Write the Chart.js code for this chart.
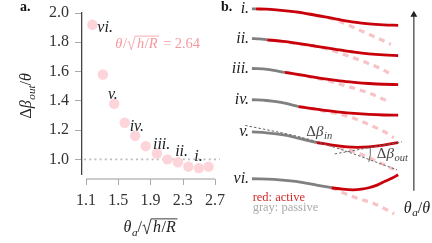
<!DOCTYPE html>
<html><head><meta charset="utf-8">
<script src="https://cdn.jsdelivr.net/npm/chart.js@4.4.1/dist/chart.umd.min.js"></script>
<style>
html,body{margin:0;padding:0;background:#fff;}
#wrap{position:relative;width:432px;height:243px;overflow:hidden;background:#fff;}
#ca{position:absolute;left:0;top:0;}
#cb{position:absolute;left:220px;top:0;}
</style></head><body>
<div id="wrap">
<canvas id="cb" width="212" height="243"></canvas>
<canvas id="ca" width="240" height="243"></canvas>
</div>
<script>
// ---------- Panel a data ----------
const xVals = [1.18, 1.31, 1.45, 1.58, 1.71, 1.84, 1.98, 2.11, 2.24, 2.37, 2.50, 2.62];
const yVals = [1.92, 1.58, 1.38, 1.25, 1.16, 1.09, 1.04, 1.00, 0.98, 0.95, 0.94, 0.95];
const xTicks = [1.1, 1.5, 1.9, 2.3, 2.7];
const yTicks = [1.0, 1.2, 1.4, 1.6, 1.8, 2.0];
const refLine = 1.0;
const pointLabels = ['vi.', 'v.', 'iv.', 'iii.', 'ii.', 'i.'];
const pointLabelIdx = [0, 2, 4, 6, 8, 10];
const annotationValue = '2.64';

// ---------- Panel b data (schematic: s = position along span, depth downward) ----------
const rowNames = ['i.', 'ii.', 'iii.', 'iv.', 'v.', 'vi.'];
const grayCurves = [
  [[0,5],[0.028,5.05]],
  [[0,35.7],[0.05,36.1],[0.105,37]],
  [[0,66.7],[0.105,67.5],[0.226,70.7]],
  [[0,99],[0.1,99.8],[0.2,101.8],[0.318,106]],
  [[0,132.3],[0.1,133.2],[0.226,135.7],[0.33,139.3],[0.445,143.3]],
  [[0,180.7],[0.15,181.3],[0.3,183.5],[0.45,187.5],[0.544,190]]
];
const redCurves = [
  [[0.028,5.05],[0.1,5.4],[0.2,6.5],[0.3,8.2],[0.4,10.6],[0.5,13.3],[0.6,16.2],[0.7,18.8],[0.8,20.6],[0.9,21.6],[1,22]],
  [[0.105,37],[0.2,38.5],[0.3,40.5],[0.4,42.8],[0.5,45],[0.6,47.5],[0.7,49.8],[0.8,51.6],[0.9,52.7],[1,53.3]],
  [[0.226,70.7],[0.3,72.5],[0.4,75],[0.5,77.5],[0.6,79.5],[0.7,81],[0.8,82.2],[0.9,83],[1,83.3]],
  [[0.318,106],[0.4,108],[0.5,110],[0.6,111.8],[0.7,113.2],[0.8,114.2],[0.9,114.8],[1,115]],
  [[0.445,143.3],[0.55,146],[0.65,147.8],[0.72,148.3],[0.8,147.8],[0.9,146],[1,143.3]],
  [[0.544,190],[0.62,191.5],[0.69,192.2],[0.75,191.5],[0.8,190],[0.86,187],[0.91,183.3],[0.96,180],[1,176.5]]
];
const pinkCurves = [
  [[0.3,8.3],[0.45,12],[0.6,18],[0.74,27.3],[0.87,36],[0.95,41.7]],
  [[0.105,37],[0.3,41],[0.5,46],[0.62,51.7],[0.76,59.3],[0.9,68.3],[0.95,72.7]],
  [[0.226,70.7],[0.4,75.5],[0.55,80.5],[0.65,85],[0.8,92],[0.93,100.7]],
  [[0.318,106],[0.45,109.5],[0.6,114],[0.71,119],[0.82,126],[0.92,133.3],[0.97,138.3]],
  [[0.445,143.3],[0.55,146.5],[0.65,150.5],[0.71,153.3],[0.84,161.7],[0.97,171]],
  [[0.544,190],[0.664,197.7],[0.752,202.3],[0.84,206.7],[0.917,212.3],[0.972,217]]
];
const tangentIn = [[-0.046,125.5],[0.355,138.5],[0.6,150],[0.993,171.5]];
const tangentOut = [[0.566,155],[1.026,142.5]];
const arcCenter = [0.585,152.5];
const arrowAxis = [[1.107,193],[1.107,11]];

const SERIF = "'Liberation Serif','DejaVu Serif',serif";
const RED = '#c8000a', GRAY = '#808080', PINK = '#f7c3c6';

function fontStr(size, it, b) {
  return (it ? 'italic ' : '') + (b ? 'bold ' : '') + size + 'px ' + SERIF;
}
function drawSegs(ctx, segs, x, y, size, draw) {
  let cx = x;
  for (const s of segs) {
    if (s.sqrt) {
      const rw = size * 0.62;
      const innerStart = cx + rw;
      ctx.font = fontStr(size, false, false);
      const iw = drawSegs(ctx, s.sqrt, innerStart + 1, y, size, false);
      if (draw) {
        ctx.lineWidth = Math.max(0.8, size * 0.055);
        ctx.beginPath();
        ctx.moveTo(cx + 0.5, y - size * 0.38);
        ctx.lineTo(cx + size * 0.14, y - size * 0.45);
        ctx.lineTo(cx + size * 0.3, y + size * 0.12);
        ctx.lineTo(cx + size * 0.56, y - size * 0.82);
        ctx.lineTo(innerStart + iw + 2, y - size * 0.82);
        ctx.stroke();
        drawSegs(ctx, s.sqrt, innerStart + 1, y, size, true);
      }
      cx = innerStart + iw + 2;
      continue;
    }
    const sz = s.sub ? size * 0.7 : size;
    ctx.font = fontStr(sz, s.i, s.b);
    const w = ctx.measureText(s.t).width;
    if (draw) ctx.fillText(s.t, cx, y + (s.sub ? size * 0.22 : 0));
    cx += w + (s.i && !s.sub ? size * 0.04 : 0);
  }
  return cx - x;
}
function drawRich(ctx, segs, x, y, size, color, align) {
  ctx.save();
  ctx.textBaseline = 'alphabetic';
  ctx.textAlign = 'left';
  const w = drawSegs(ctx, segs, 0, 0, size, false);
  const sx = align === 'center' ? x - w / 2 : align === 'right' ? x - w : x;
  ctx.fillStyle = color; ctx.strokeStyle = color;
  drawSegs(ctx, segs, sx, y, size, true);
  ctx.restore();
}
const sqrtHR = {sqrt: [{t:'h', i:1}, {t:'/'}, {t:'R', i:1}]};

// ---------- Panel a ----------
const leftPlugin = {
  id: 'leftDecor',
  beforeDatasetsDraw(chart) {
    const {ctx, chartArea, scales} = chart;
    const y1 = scales.y.getPixelForValue(refLine);
    ctx.save();
    ctx.strokeStyle = '#bdbdbd'; ctx.lineWidth = 1.6; ctx.setLineDash([2, 3.2]);
    ctx.beginPath(); ctx.moveTo(chartArea.left + 2, y1); ctx.lineTo(chartArea.right, y1); ctx.stroke();
    ctx.restore();
  },
  afterDraw(chart) {
    const {ctx, chartArea, scales} = chart;
    const xs = scales.x, ys = scales.y;
    // detached x spine
    const sy = chartArea.bottom + 5;
    ctx.save();
    ctx.strokeStyle = '#9a9a9a'; ctx.lineWidth = 1.2;
    ctx.beginPath();
    ctx.moveTo(xs.getPixelForValue(xTicks[0]), sy);
    ctx.lineTo(xs.getPixelForValue(xTicks[xTicks.length - 1]), sy);
    ctx.stroke();
    ctx.strokeStyle = '#aaa'; ctx.lineWidth = 1;
    for (const t of xTicks) {
      const px = Math.round(xs.getPixelForValue(t)) + 0.5;
      ctx.beginPath(); ctx.moveTo(px, sy); ctx.lineTo(px, sy + 6); ctx.stroke();
    }
    ctx.restore();
    // point labels
    const offs = [[13, 3], [-1, -9], [2, -9], [5, -9], [4, -10], [0, -11]];
    pointLabels.forEach((lab, k) => {
      const i = pointLabelIdx[k];
      const px = xs.getPixelForValue(xVals[i]) + offs[k][0];
      const py = ys.getPixelForValue(yVals[i]) + offs[k][1];
      drawRich(ctx, [{t: lab, i: 1}], px, py + 4, 16, '#222', 'center');
    });
    // annotation
    drawRich(ctx, [{t:'θ', i:1}, {t:'/'}, sqrtHR, {t:' = ' + annotationValue}],
      (xs.getPixelForValue(xVals[1]) + xs.getPixelForValue(xVals[9])) / 2 + 12, 48, 14.5, '#f59a9f', 'center');
    // axis titles
    const xc = (xs.getPixelForValue(xTicks[0]) + xs.getPixelForValue(xTicks[xTicks.length - 1])) / 2;
    drawRich(ctx, [{t:'θ', i:1}, {t:'a', i:1, sub:1}, {t:'/'}, sqrtHR], xc, 232, 16, '#222', 'center');
    ctx.save();
    ctx.translate(31, (chartArea.top + chartArea.bottom) / 2 + 2);
    ctx.rotate(-Math.PI / 2);
    drawRich(ctx, [{t:'Δ'}, {t:'β', i:1}, {t:'out', i:1, sub:1}, {t:'/'}, {t:'θ', i:1}], 0, 0, 16, '#222', 'center');
    ctx.restore();
    drawRich(ctx, [{t:'a.', b:1}], 20, 11, 14, '#111', 'left');
  }
};

new Chart(document.getElementById('ca'), {
  type: 'scatter',
  data: {datasets: [{
    data: xVals.map((x, i) => ({x, y: yVals[i]})),
    backgroundColor: '#fcd4d9', borderWidth: 0, pointRadius: 5.2, pointHoverRadius: 5.2
  }]},
  options: {
    responsive: false, animation: false, events: [],
    plugins: {legend: {display: false}, tooltip: {enabled: false}},
    layout: {padding: {top: 13, right: 20, left: 0, bottom: 0}},
    scales: {
      x: {
        type: 'linear', min: 1.0505, max: 2.762,
        afterBuildTicks: s => { s.ticks = xTicks.map(v => ({value: v})); },
        afterFit: s => { s.height = 69; s.paddingLeft = 0; s.paddingRight = 0; },
        grid: {display: false}, border: {display: false},
        ticks: {padding: 9, font: {family: SERIF, size: 16}, color: '#333',
          callback: v => Number(v).toFixed(1), maxRotation: 0, autoSkip: false}
      },
      y: {
        type: 'linear', min: 0.9, max: 2.0,
        afterBuildTicks: s => { s.ticks = yTicks.map(v => ({value: v})); },
        afterFit: s => { s.width = 82; s.paddingTop = 0; s.paddingBottom = 0; },
        grid: {display: true, drawOnChartArea: false, tickLength: 7, color: '#aaa'},
        border: {display: true, color: '#444', width: 1.3},
        ticks: {padding: 6, font: {family: SERIF, size: 16}, color: '#333',
          callback: v => Number(v).toFixed(1), autoSkip: false}
      }
    }
  },
  plugins: [leftPlugin]
});

// ---------- Panel b ----------
const toXY = arr => arr.map(p => ({x: p[0], y: p[1]}));
const datasets = [];
pinkCurves.forEach(c => datasets.push({data: toXY(c), borderColor: PINK, borderWidth: 3.2,
  borderDash: [6, 5], order: 3}));
redCurves.forEach(c => datasets.push({data: toXY(c), borderColor: RED, borderWidth: 2.8, order: 1}));
grayCurves.forEach(c => datasets.push({data: toXY(c), borderColor: GRAY, borderWidth: 2.8, order: 2}));
datasets.push({data: toXY(tangentIn), borderColor: '#666', borderWidth: 1, borderDash: [2.5, 2], order: 0});
datasets.push({data: toXY(tangentOut), borderColor: '#666', borderWidth: 1, borderDash: [2.5, 2], order: 0});
datasets.push({data: toXY(arrowAxis), borderColor: '#555', borderWidth: 1.4, order: 0,
  pointRadius: [0, 4], pointStyle: 'triangle', pointBackgroundColor: '#222', pointBorderWidth: 0, tension: 0});
datasets.forEach(d => {
  d.showLine = true; d.clip = false; d.fill = false;
  if (d.pointRadius === undefined) d.pointRadius = 0;
  if (d.tension === undefined) d.cubicInterpolationMode = 'monotone';
});

const rightPlugin = {
  id: 'rightDecor',
  afterDraw(chart) {
    const {ctx, scales} = chart;
    const X = v => scales.x.getPixelForValue(v), Y = v => scales.y.getPixelForValue(v);
    rowNames.forEach((n, r) => {
      drawRich(ctx, [{t: n, i: 1}], X(-0.015), Y(grayCurves[r][0][1]) + 4, 16, '#222', 'right');
    });
    drawRich(ctx, [{t:'b.', b:1}], 1, 11, 14, '#111', 'left');
    // delta beta labels
    drawRich(ctx, [{t:'Δ'}, {t:'β', i:1}, {t:'in', i:1, sub:1}], X(0.46), Y(136), 15, '#444', 'center');
    drawRich(ctx, [{t:'Δ'}, {t:'β', i:1}, {t:'out', i:1, sub:1}], X(0.96), Y(159), 15, '#444', 'center');
    // angle arc
    const cx = X(arcCenter[0]), cy = Y(arcCenter[1]);
    ctx.save(); ctx.strokeStyle = '#555'; ctx.lineWidth = 0.9;
    ctx.beginPath(); ctx.arc(cx, cy, 33, -0.12, 0.32); ctx.stroke(); ctx.restore();
    // legend text
    drawRich(ctx, [{t:'red: active'}], X(0.005), Y(204), 12.5, '#d42a2a', 'left');
    drawRich(ctx, [{t:'gray: passive'}], X(0.005), Y(214), 12.5, '#ababab', 'left');
    // arrow label
    drawRich(ctx, [{t:'θ', i:1}, {t:'a', i:1, sub:1}, {t:'/'}, {t:'θ', i:1}], X(1.13), Y(216), 16, '#222', 'center');
  }
};

new Chart(document.getElementById('cb'), {
  type: 'scatter',
  data: {datasets},
  options: {
    responsive: false, animation: false, events: [],
    plugins: {legend: {display: false}, tooltip: {enabled: false}},
    layout: {padding: 0},
    scales: {
      x: {type: 'linear', display: false, min: -0.1908, max: 1.2039},
      y: {type: 'linear', display: false, min: 0, max: 243, reverse: true}
    }
  },
  plugins: [rightPlugin]
});
</script>
</body></html>
